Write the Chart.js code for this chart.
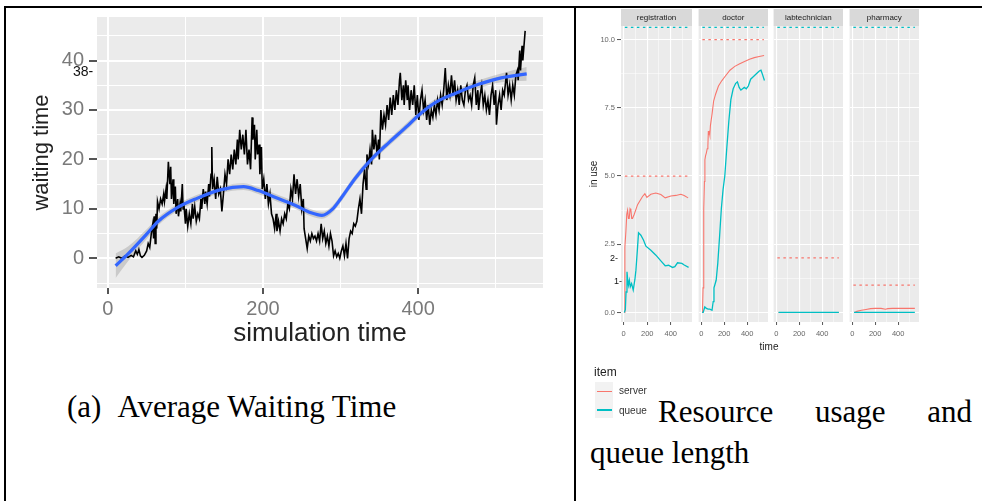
<!DOCTYPE html>
<html>
<head>
<meta charset="utf-8">
<script src="https://cdn.jsdelivr.net/npm/chart.js@4.4.1/dist/chart.umd.min.js"></script>
<style>
body { margin: 0; background: #fff; }
#page { position: relative; width: 982px; height: 501px; overflow: hidden; font-family: 'Liberation Sans', Arial, sans-serif; }
#page canvas { position: absolute; top: 0; }
.abs { position: absolute; white-space: nowrap; }
.rule { position: absolute; background: #000; }
.serif { font-family: 'Liberation Serif', 'Times New Roman', serif; font-size: 31px; line-height: 41px; color: #000; }
</style>
</head>
<body>
<div id="page">
  <canvas id="waitChart" width="576" height="360" style="left:0"></canvas>
  <canvas id="facet0" width="118" height="360" style="left:576px"></canvas>
  <canvas id="facet1" width="75" height="360" style="left:695px"></canvas>
  <canvas id="facet2" width="75" height="360" style="left:770px"></canvas>
  <canvas id="facet3" width="75" height="360" style="left:846px"></canvas>

  <!-- table borders -->
  <div class="rule" style="left:4px;top:6px;width:978px;height:2px"></div>
  <div class="rule" style="left:4px;top:6px;width:2px;height:495px"></div>
  <div class="rule" style="left:574px;top:6px;width:2px;height:495px"></div>

  <!-- stray labels pasted over the figures -->
  <div class="abs" style="left:73px;top:63px;font-size:14px;line-height:16px;color:#111">38-</div>
  <div class="abs" style="left:610px;top:252px;font-size:9px;line-height:12px;color:#111">2-</div>
  <div class="abs" style="left:614px;top:275px;font-size:9px;line-height:12px;color:#111">1-</div>

  <div class="abs" style="left:749px;top:341px;width:40px;text-align:center;font-size:10px;line-height:12px;color:#222">time</div>

  <!-- legend -->
  <div class="abs" style="left:594px;top:365px;font-size:12px;line-height:14px;color:#222">item</div>
  <div class="abs" style="left:595px;top:382px;width:18px;height:18px;background:#F2F2F2"></div>
  <div class="abs" style="left:595px;top:400px;width:18px;height:18px;background:#F2F2F2"></div>
  <div class="abs" style="left:597px;top:391px;width:15px;height:1px;background:#F8766D"></div>
  <div class="abs" style="left:597px;top:409px;width:15px;height:2px;background:#00BFC4"></div>
  <div class="abs" style="left:619px;top:385px;font-size:10px;line-height:12px;color:#333">server</div>
  <div class="abs" style="left:619px;top:405px;font-size:10px;line-height:12px;color:#333">queue</div>

  <!-- captions -->
  <div class="abs serif" style="left:67px;top:386px"><span>(a)</span><span style="margin-left:16px">Average Waiting Time</span></div>
  <div class="abs serif" style="left:658px;top:391px;width:314px;display:flex;justify-content:space-between"><span>Resource</span><span>usage</span><span>and</span></div>
  <div class="abs serif" style="left:590px;top:432px">queue length</div>
</div>

<script>
// (a) waiting time vs simulation time
const waitTime = [
  10, 14, 18, 22, 26, 30, 33, 36, 38, 40, 42, 44, 47, 50,
  52, 54, 56, 58, 59, 60, 61, 62, 63, 64, 66, 68, 70, 72, 73, 75, 76, 78, 79, 80, 81, 82, 84, 85, 87, 88, 90, 91, 93, 94, 96, 97, 98,
  100, 101, 103, 105, 107, 109, 110, 112, 114, 116, 118, 120, 121, 123, 125, 126, 128, 130, 131, 133, 134, 135, 137, 139, 141, 143, 145, 147, 149,
  151, 153, 155, 157, 159, 161, 163, 165, 167, 168, 170, 172, 174, 176, 178, 180, 182, 184, 186, 187, 189, 190, 192, 193, 195, 196, 198, 199,
  201, 203, 205, 207, 209, 211, 213, 215, 217, 218, 220, 222, 224, 226, 228, 230, 232, 234, 236, 238, 240, 242, 244, 246, 248, 250,
  252, 253, 255, 257, 259, 261, 263, 265, 267, 269, 271, 273, 275, 277, 279, 281, 283, 285, 287, 289, 291, 293, 295, 297, 299,
  301, 303, 305, 307, 309, 311, 313, 315, 317, 319, 321, 323, 325, 327, 329, 331, 333, 334, 336, 338, 340, 341, 343, 345, 347, 349, 350,
  352, 354, 356, 358, 360, 362, 364, 366, 368, 370, 372, 374, 376, 377, 379, 381, 382, 384, 386, 387, 389, 391, 393, 395, 397, 399,
  401, 403, 405, 407, 409, 411, 413, 415, 417, 419, 421, 423, 425, 427, 429, 431, 433, 435, 437, 439, 441, 443, 445, 447, 449,
  451, 453, 455, 457, 459, 461, 463, 465, 467, 469, 471, 473, 475, 477, 478, 480, 482, 484, 486, 488, 490, 492, 494, 496, 498, 500,
  501, 503, 505, 507, 509, 511, 513, 514, 516, 518, 520, 522, 524, 526, 528, 529, 531, 532, 534, 535, 537, 538
];
const waitValue = [
  0, 0.3, 0, 0.5, 0.2, 0.6, 0.3, 1.5, 0.8, 1.8, 0.5, 0.2, 0.6, 1.5,
  3, 2.2, 5, 7, 4, 8.5, 3, 9, 6, 11.5, 10, 12, 11, 13, 11.5, 14, 12, 19.5, 17, 15, 18.5, 12, 16, 11, 14.5, 9, 12, 8.5, 11, 9.5, 15, 10, 11,
  7, 10, 6.5, 9, 7, 11, 8, 10.5, 7.5, 9, 8, 12, 10, 14, 11, 13.5, 11, 15, 12.5, 17, 22.5, 14, 16, 12, 16.5, 13, 14, 9.5, 13,
  17, 15, 20, 17, 21, 18, 22, 19, 24, 20, 26, 22, 25, 21, 26, 19, 22, 18, 28.5, 24, 27, 20, 26, 21, 23, 17, 22.5, 14,
  16, 12, 15, 11, 13, 9, 8, 6, 9, 5.5, 7.5, 5.5, 8, 7, 9, 8, 11, 10, 14, 12, 17, 13, 16, 12.5, 15, 10,
  12, 6, 4, 2, 4.5, 3.5, 5, 4, 4.5, 3.5, 5, 3.5, 7, 4, 5.5, 3, 4.5, 2.5, 5, 3.5, 0.5, 1.5, 0.3, 1, 0,
  1.5, 2.5, 0.5, 3, 0, 4, 5.5, 5, 7, 6.5, 7.5, 10, 12, 9, 15, 18, 14, 21, 19, 22, 19, 26, 22, 25, 21, 24, 20,
  30, 26, 29, 27, 31, 28, 32.5, 29, 33, 30, 34, 31, 36, 37.5, 32, 35, 31, 36, 32, 35, 30, 34, 31, 35, 29, 33,
  28, 32, 34, 30, 32, 28, 31, 27, 30, 28.5, 31, 29, 32, 30, 33, 31, 34, 38.5, 32, 35, 33, 37, 33, 36, 32,
  34, 31, 35, 32, 31, 34, 35, 32, 33, 31, 35, 36.5, 31, 34, 30, 33, 35, 31, 33, 30, 32, 29, 33, 35, 31, 34,
  27, 31, 33, 30, 34, 33, 36, 37.5, 33, 35, 32, 35, 33, 37, 38, 36, 42, 38, 43, 40, 44, 46
];
// loess smooth and its band
const smoothTime  = [10, 26, 50, 65, 89, 113, 146, 175, 194, 218, 242, 262, 276, 290, 300, 319, 339, 363, 387, 401, 422, 450, 478, 507, 540];
const smoothValue = [-1.5, 0.9, 4.9, 7.5, 10.2, 12, 13.9, 14.5, 13.7, 12.2, 10.7, 9.2, 8.7, 10, 12, 16.2, 19.9, 23.5, 26.9, 29, 31.5, 33.5, 35.2, 36.5, 37.3];
const smoothUpper = [1.0, 2.4, 5.9, 8.3, 10.9, 12.7, 14.6, 15.2, 14.4, 12.9, 11.4, 9.9, 9.4, 10.7, 12.7, 16.9, 20.6, 24.2, 27.6, 29.7, 32.2, 34.2, 36.0, 37.4, 38.7];
const smoothLower = [-4.0, -0.6, 3.9, 6.7, 9.5, 11.3, 13.2, 13.8, 13.0, 11.5, 10.0, 8.5, 8.0, 9.3, 11.3, 15.5, 19.2, 22.8, 26.2, 28.3, 30.8, 32.8, 34.4, 35.6, 35.9];
const simTicks = [0, 100, 200, 300, 400, 500];
const simLabels = [0, 200, 400];
const waitTicks = [-5, 0, 5, 10, 15, 20, 25, 30, 35, 40, 45];
const waitLabels = [0, 10, 20, 30, 40];

// (b) resource usage facets
const facetNames = ['registration', 'doctor', 'labtechnician', 'pharmacy'];
const regServerTime = [5, 10, 19, 26, 33, 40, 47, 54, 61, 68, 75, 90, 118, 160, 180, 197, 231, 273, 316, 353, 401, 444, 486, 514, 548];
const regServerValue = [0, 2.4, 3.0, 3.6, 3.75, 3.45, 3.45, 3.8, 3.75, 3.45, 3.45, 3.6, 3.95, 4.25, 4.35, 4.22, 4.33, 4.38, 4.32, 4.2, 4.27, 4.29, 4.33, 4.29, 4.2];
const regQueueTime = [5, 14, 20, 28, 34, 40, 48, 56, 67, 81, 95, 104, 118, 126, 146, 169, 189, 231, 274, 316, 353, 381, 415, 435, 458, 495, 515, 552];
const regQueueValue = [0, 0.1, 0.75, 1.49, 1.2, 1.0, 1.18, 0.94, 1.06, 0.82, 1.2, 1.55, 2.4, 2.92, 2.83, 2.65, 2.43, 2.28, 2.1, 1.89, 1.71, 1.73, 1.65, 1.68, 1.82, 1.8, 1.74, 1.65];
const docServerTime = [8, 12, 16, 20, 24, 28, 32, 38, 45, 52, 58, 62, 66, 70, 75, 80, 95, 108, 125, 150, 180, 207, 250, 292, 335, 377, 420, 462, 505, 547];
const docServerValue = [0, 0.2, 0.9, 2.5, 3.8, 4.8, 5.6, 5.75, 5.85, 6.0, 6.1, 6.65, 6.55, 6.6, 6.5, 6.85, 7.3, 7.75, 8.0, 8.3, 8.5, 8.65, 8.88, 9.02, 9.12, 9.2, 9.28, 9.34, 9.38, 9.42];
const docQueueTime = [8, 17, 31, 45, 60, 75, 94, 104, 111, 130, 144, 160, 175, 190, 205, 222, 240, 258, 278, 300, 315, 330, 345, 360, 375, 392, 410, 430, 455, 480, 505, 520, 535, 550];
const docQueueValue = [0, 0, 0.2, 0.15, 0.12, 0.12, 0.08, 0.4, 0.9, 1.18, 1.8, 2.8, 3.8, 4.5, 5.0, 6.0, 7.0, 7.8, 8.2, 8.4, 8.45, 8.25, 8.15, 8.2, 8.25, 8.2, 8.3, 8.55, 8.65, 8.75, 8.85, 8.88, 8.7, 8.5];
const labServerTime = [20, 545];
const labServerValue = [0, 0];
const labQueueTime = [20, 545];
const labQueueValue = [0, 0];
const pharmServerTime = [20, 40, 80, 120, 160, 200, 250, 290, 310, 350, 400, 450, 500, 545];
const pharmServerValue = [0, 0.04, 0.08, 0.11, 0.14, 0.15, 0.15, 0.12, 0.14, 0.15, 0.15, 0.15, 0.15, 0.15];
const pharmQueueTime = [15, 545];
const pharmQueueValue = [0, 0];
const serverCapacity = [5, 10, 2, 1];
const queueCapacity = [10.45, 10.45, 10.45, 10.45]; // unbounded queue, sits at panel top
const limitSpan = [10, 545];
const facetXTicks = [0, 100, 200, 300, 400, 500];
const facetXLabels = [0, 200, 400];
const facetYTicks = [0, 1.25, 2.5, 3.75, 5, 6.25, 7.5, 8.75, 10];
const facetYLabels = [0, 2.5, 5, 7.5, 10];

const serverTime = [regServerTime, docServerTime, labServerTime, pharmServerTime];
const serverValue = [regServerValue, docServerValue, labServerValue, pharmServerValue];
const queueTime = [regQueueTime, docQueueTime, labQueueTime, pharmQueueTime];
const queueValue = [regQueueValue, docQueueValue, labQueueValue, pharmQueueValue];

Chart.defaults.font.family = "'Liberation Sans', Arial, sans-serif";

function pts(xs, ys) {
    return xs.map((x, i) => ({ x: x, y: ys[i] }));
}
function fixTicks(list) {
    return scale => { scale.ticks = list.map(v => ({ value: v })); };
}
function isMajor(list) {
    return c => c.tick !== undefined && list.includes(c.tick.value);
}

// ggplot grey panel + facet strip
const panelBg = {
    id: 'panelBg',
    beforeDraw(chart) {
        const a = chart.chartArea, ctx = chart.ctx;
        ctx.save();
        ctx.fillStyle = '#EBEBEB';
        ctx.fillRect(a.left, a.top, a.right - a.left, a.bottom - a.top);
        if (chart.options.plugins.title.display && chart.titleBlock) {
            ctx.fillStyle = '#D9D9D9';
            ctx.fillRect(a.left, chart.titleBlock.top, a.right - a.left, chart.titleBlock.height);
        }
        ctx.restore();
    }
};

/* Average waiting time chart */
const simMajor = isMajor(simLabels), waitMajor = isMajor(waitLabels);
new Chart(document.getElementById('waitChart'), {
    type: 'line',
    data: {
        datasets: [
            { data: pts(smoothTime, smoothValue), borderColor: '#3366FF', borderWidth: 3.2, pointRadius: 0, cubicInterpolationMode: 'monotone', fill: false },
            { data: pts(waitTime, waitValue), borderColor: '#000', borderWidth: 1.6, pointRadius: 0, tension: 0, fill: false },
            { data: pts(smoothTime, smoothUpper), borderColor: 'rgba(0,0,0,0)', pointRadius: 0, cubicInterpolationMode: 'monotone', fill: '+1', backgroundColor: 'rgba(153,153,153,0.4)' },
            { data: pts(smoothTime, smoothLower), borderColor: 'rgba(0,0,0,0)', pointRadius: 0, cubicInterpolationMode: 'monotone', fill: false }
        ]
    },
    options: {
        responsive: false,
        animation: false,
        layout: { padding: { left: 0, top: 14, right: 33, bottom: 0 } },
        plugins: { legend: { display: false }, tooltip: { enabled: false } },
        scales: {
            x: {
                type: 'linear', min: -14, max: 561,
                afterBuildTicks: fixTicks(simTicks),
                afterFit: s => { s.height = 72; },
                border: { display: false },
                grid: {
                    color: '#fff',
                    lineWidth: c => simMajor(c) ? 2 : 1,
                    tickColor: c => simMajor(c) ? '#555' : 'rgba(0,0,0,0)',
                    tickLength: 6, tickWidth: 2
                },
                ticks: { autoSkip: false, maxRotation: 0, padding: 3, color: '#7a7a7a', font: { size: 20 },
                    callback: v => simLabels.includes(v) ? String(v) : '' },
                title: { display: true, text: 'simulation time', color: '#222', font: { size: 26 }, padding: { top: 0, bottom: 11 } }
            },
            y: {
                min: -6, max: 48.8,
                afterBuildTicks: fixTicks(waitTicks),
                afterFit: s => { s.width = 97; },
                border: { display: false },
                grid: {
                    color: '#fff',
                    lineWidth: c => waitMajor(c) ? 2 : 1,
                    tickColor: c => waitMajor(c) ? '#555' : 'rgba(0,0,0,0)',
                    tickLength: 8, tickWidth: 2
                },
                ticks: { autoSkip: false, padding: 5, color: '#7a7a7a', font: { size: 20 },
                    callback: v => waitLabels.includes(v) ? String(v) : '' },
                title: { display: true, text: 'waiting time', color: '#222', font: { size: 22 }, padding: { top: 29, bottom: 0 } }
            }
        }
    },
    plugins: [panelBg]
});

/* Resource usage facets */
const fxMajor = isMajor(facetXLabels), fyMajor = isMajor(facetYLabels);
function facetChart(i) {
    const first = i === 0;
    return new Chart(document.getElementById('facet' + i), {
        type: 'line',
        data: {
            datasets: [
                { data: pts(queueTime[i], queueValue[i]), borderColor: '#00BFC4', borderWidth: 1.3, pointRadius: 0, tension: 0 },
                { data: pts(serverTime[i], serverValue[i]), borderColor: '#F8766D', borderWidth: 1.1, pointRadius: 0, tension: 0 },
                { data: pts(limitSpan, [queueCapacity[i], queueCapacity[i]]), borderColor: '#00BFC4', borderWidth: 1.2, borderDash: [2.5, 3.5], pointRadius: 0 },
                { data: pts(limitSpan, [serverCapacity[i], serverCapacity[i]]), borderColor: '#F8766D', borderWidth: 1.2, borderDash: [2.5, 3.5], pointRadius: 0 }
            ]
        },
        options: {
            responsive: false,
            animation: false,
            layout: { padding: { left: first ? 0 : 2, top: 9, right: 2, bottom: 0 } },
            plugins: {
                legend: { display: false },
                tooltip: { enabled: false },
                title: { display: true, text: facetNames[i], fullSize: false, color: '#1A1A1A', font: { size: 8, weight: 'normal' }, padding: { top: 4, bottom: 3.4 } }
            },
            scales: {
                x: {
                    type: 'linear', min: -23, max: 581,
                    afterBuildTicks: fixTicks(facetXTicks),
                    afterFit: s => { s.height = 38; },
                    border: { display: false },
                    grid: {
                        color: '#fff',
                        lineWidth: c => fxMajor(c) ? 1.1 : 0.5,
                        tickColor: c => fxMajor(c) ? '#555' : 'rgba(0,0,0,0)',
                        tickLength: 3, tickWidth: 1
                    },
                    ticks: { autoSkip: false, maxRotation: 0, padding: 4, color: '#666', font: { size: 7.5 },
                        callback: v => facetXLabels.includes(v) ? String(v) : '' }
                },
                y: {
                    min: -0.35, max: 10.5,
                    afterBuildTicks: fixTicks(facetYTicks),
                    afterFit: s => { s.width = first ? 45 : 0; },
                    border: { display: false },
                    grid: {
                        color: '#fff',
                        drawTicks: first,
                        lineWidth: c => fyMajor(c) ? 1.1 : 0.5,
                        tickColor: c => fyMajor(c) ? '#555' : 'rgba(0,0,0,0)',
                        tickLength: 4, tickWidth: 1
                    },
                    ticks: { display: first, autoSkip: false, padding: 2, color: '#666', font: { size: 7.5 },
                        callback: v => facetYLabels.includes(v) ? v.toFixed(1) : '' },
                    title: { display: first, text: 'in use', color: '#222', font: { size: 10 }, padding: { top: 12, bottom: 0 } }
                }
            }
        },
        plugins: [panelBg]
    });
}
facetNames.forEach((name, i) => facetChart(i));
</script>
</body>
</html>
